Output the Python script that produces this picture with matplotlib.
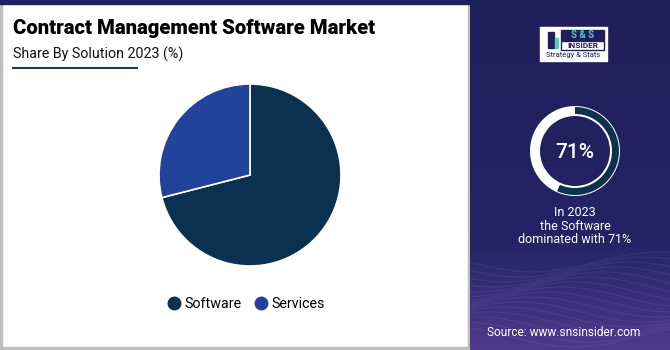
import numpy as np
import matplotlib
matplotlib.use("Agg")
import matplotlib.pyplot as plt
from matplotlib.patches import Rectangle, Wedge
from matplotlib.lines import Line2D

plt.rcParams['font.family'] = ['Roboto', 'DejaVu Sans']

# data
segments = ["Software", "Services"]
shares = [71, 29]
colors = ["#0b3150", "#22439a"]
title = "Contract Management Software Market"
subtitle = "Share By Solution 2023 (%)"
highlight = "71%"
note = "In 2023\nthe Software\ndominated with 71%"
source = "Source: www.snsinsider.com"

W, H = 670, 350
fig = plt.figure(figsize=(W / 100, H / 100), dpi=100)

# background canvas in pixel coords (y down)
bg = fig.add_axes([0, 0, 1, 1])
bg.set_xlim(0, W)
bg.set_ylim(H, 0)
bg.axis("off")

bg.add_patch(Rectangle((0, 0), W, H, color="white", zorder=0))
bg.add_patch(Rectangle((0, 0), 2, H, color="#bdbdbd", zorder=1))
bg.add_patch(Rectangle((0, 347), 470, 3, color="#bdbdbd", zorder=1))
bg.add_patch(Rectangle((468, 4), 2, H, color="#bdbdbd", zorder=1))
bg.add_patch(Rectangle((0, 0), W, 4, color="#1f1f5a", zorder=2))

# right panel with gradient
ny = 200
grad = np.zeros((ny, 1, 3))
top = np.array([32, 31, 91]) / 255.0
mid = np.array([36, 35, 100]) / 255.0
bot = np.array([78, 58, 140]) / 255.0
for i in range(ny):
    t = i / (ny - 1)
    if t < 0.68:
        grad[i, 0] = top + (mid - top) * t / 0.68
    else:
        grad[i, 0] = mid + (bot - mid) * (t - 0.68) / 0.32
bg.imshow(grad, extent=(470, W, H, 4), aspect="auto", zorder=1)

# faint waves at bottom of right panel
xw = np.linspace(470, W, 200)
for k in range(16):
    yw = 262 + k * 5 + 10 * np.sin((xw - 470) / 40.0 + k * 0.35)
    bg.plot(xw, yw, color="#9a8fe8", alpha=0.13, lw=0.8, zorder=2)

# logo
bg.add_patch(Rectangle((540, 27), 67, 34, color="white", zorder=3))
bg.add_patch(Rectangle((561, 30), 43, 10, color="#1f1f5a", zorder=4))
bg.text(582.5, 35, "S & S", color="#5cc9c0", fontsize=7, fontweight="bold",
        ha="center", va="center", zorder=5)
bg.add_patch(Rectangle((561, 41), 43, 9, facecolor="white", edgecolor="#1f1f5a", lw=1, zorder=4))
bg.text(582.5, 45.5, "INSIDER", color="#1f1f5a", fontsize=6, fontweight="bold",
        ha="center", va="center", zorder=5)
bg.text(573.5, 55.5, "Strategy & Stats", color="#1f1f5a", fontsize=5.5,
        ha="center", va="center", zorder=5)
bg.add_patch(Rectangle((548, 32), 6, 16, color="#1f1f5a", zorder=4))
bg.add_patch(Rectangle((555, 38), 3, 10, color="#5cc9c0", zorder=4))

# ring (y axis points down, so angles run clockwise on screen)
cx, cy = 575, 151
bg.add_patch(Wedge((cx, cy), 45, 0, 360, width=10, facecolor="white", zorder=3))
bg.add_patch(Wedge((cx, cy), 44, -90, 114, width=7, facecolor="#0b3350", zorder=4))
bg.text(cx, cy + 1, highlight, color="white", fontsize=15, fontweight="medium",
        ha="center", va="center", zorder=5)
bg.text(cx, 226, note, color="white", fontsize=9, ha="center", va="center",
        linespacing=1.05, zorder=5)
bg.text(564, 333, source, color="white", fontsize=8.6, ha="center", va="center", zorder=5)

# titles
bg.text(13, 29, title, color="black", fontsize=14.6, fontweight="heavy",
        ha="left", va="center", zorder=5)
bg.text(13, 54, subtitle, color="#111111", fontsize=10.3, ha="left", va="center", zorder=5)
bg.plot([13, 137], [68, 68], color="#1f3a5a", lw=1.5, zorder=5)

# pie
ax = fig.add_axes([159 / W, 84 / H, 182 / W, 182 / H])
ax.pie(shares, colors=colors, startangle=90, counterclock=False,
       wedgeprops=dict(edgecolor="white", linewidth=1.2))
ax.set_xlim(-1.0, 1.0)
ax.set_ylim(-1.0, 1.0)
ax.set_aspect("equal")

handles = [Line2D([0], [0], marker="o", color="none", markerfacecolor=c,
                  markeredgecolor=c, markersize=9) for c in colors]
fig.legend(handles, segments, loc="center", bbox_to_anchor=(245 / W, 1 - 304 / H),
           ncol=2, frameon=False, fontsize=10.3, handletextpad=0.1,
           columnspacing=0.8, handlelength=1.2)

fig.savefig("out.png", dpi=100)
